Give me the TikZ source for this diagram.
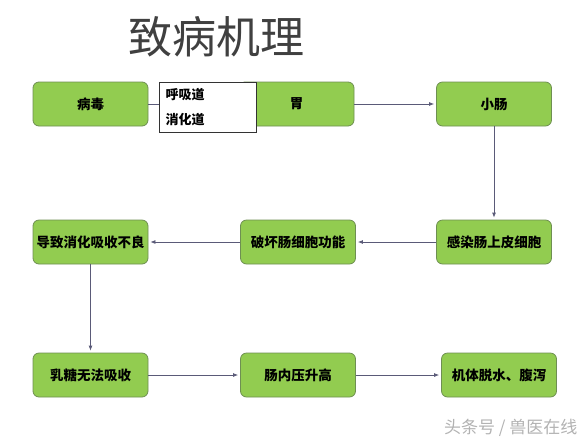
\documentclass[tikz,border=0pt]{standalone}
\usepackage{fontspec}
\setmainfont{Noto Sans CJK SC}
\usetikzlibrary{arrows.meta}
\definecolor{boxgreen}{HTML}{92CC50}
\definecolor{boxedge}{HTML}{6E8F52}
\definecolor{arrowgray}{HTML}{5A5A78}
\tikzset{
  stage/.style={draw=boxedge, fill=boxgreen, line width=0.8pt, rounded corners=6pt,
    minimum width=115pt, minimum height=44pt, inner sep=1pt,
    font=\fontsize{13.5}{15}\selectfont\bfseries},
  flow/.style={draw=arrowgray, line width=0.8pt, -{Latex[length=5pt,width=4pt]}, shorten >=2pt}
}
\begin{document}
\begin{tikzpicture}[x=1pt, y=-1pt]
\useasboundingbox (0,0) rectangle (585,445);
% 标题
\node[text=black!75, font=\fontsize{44}{48}\selectfont] (title) at (216,37) {致病机理};

% 第一行
\node[stage] (bingdu) at (90.5,104) {病毒};
\node[stage] (wei) at (296.5,104) {胃};
\node[stage] (xiaochang) at (494,104) {小肠};
% 第二行
\node[stage] (daozhi) at (90.5,242) {导致消化吸收不良};
\node[stage] (pohuai) at (298,242) {破坏肠细胞功能};
\node[stage] (ganran) at (494,242) {感染肠上皮细胞};
% 第三行
\node[stage] (rutang) at (90.5,375) {乳糖无法吸收};
\node[stage] (changnei) at (298,375) {肠内压升高};
\node[stage] (jiti) at (499,375) {机体脱水、腹泻};

% 连线
\draw[flow] (bingdu.east) -- (wei.west);
\draw[flow] (wei.east) -- (xiaochang.west);
\draw[flow] (xiaochang.south) -- (ganran.north);
\draw[flow] (ganran.west) -- (pohuai.east);
\draw[flow] (pohuai.west) -- (daozhi.east);
\draw[flow] (daozhi.south) -- (rutang.north);
\draw[flow] (rutang.east) -- (changnei.west);
\draw[flow] (changnei.east) -- (jiti.west);

% 途径
\node[draw=black!80, fill=white, line width=0.6pt, minimum width=97pt, minimum height=50pt,
  text width=84pt, align=left, inner xsep=6pt, inner ysep=3pt,
  font=\fontsize{13}{25}\selectfont\bfseries] (tujing) at (207.5,107) {呼吸道\\消化道};

% 水印
\node[text=black!30, font=\fontsize{17}{19}\selectfont, anchor=east] (mark) at (581,428) {头条号 / 兽医在线};
\end{tikzpicture}
\end{document}
